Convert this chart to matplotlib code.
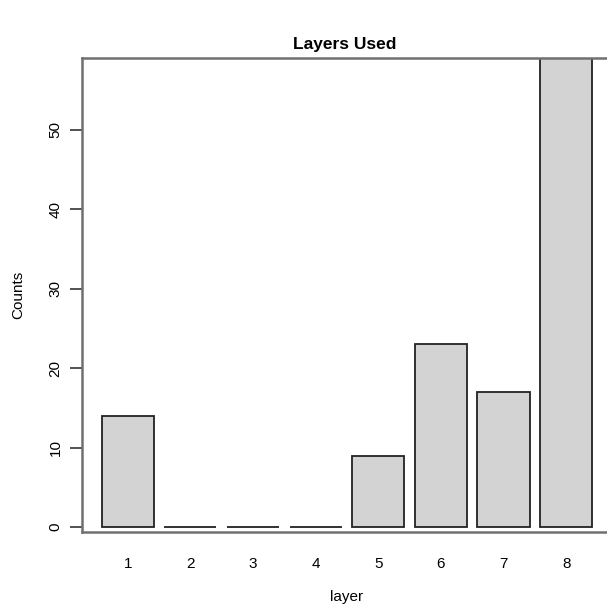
# Bar chart of how often each layer was used

import numpy as np
import matplotlib.pyplot as plt

plt.rcParams['font.family'] = ['Liberation Sans', 'DejaVu Sans']

# Counts per layer
layers = ['1', '2', '3', '4', '5', '6', '7', '8']
counts = [14, 0, 0, 0, 9, 23, 17, 59]
y_ticks = [0, 10, 20, 30, 40, 50]

fig = plt.figure(figsize=(6.07, 6.04), dpi=100)
ax = fig.add_axes([82/607, 72/604, 528/607, 474/604])

pos = np.arange(1, len(layers) + 1)
ax.bar(pos, counts, width=0.833, color='#d3d3d3', edgecolor='#222222', linewidth=1.3)

ax.set_xlim(0.27, 8.70)
ax.set_ylim(-0.6, 59)
ax.set_xticks(pos)
ax.set_xticklabels(layers, fontsize=11)
ax.tick_params(axis='x', length=0, pad=18)
ax.set_yticks(y_ticks)
ax.set_yticklabels([str(t) for t in y_ticks], rotation=90, va='center', fontsize=11)
ax.tick_params(axis='y', length=9, width=1.2, pad=5, color='#333333')

for s in ax.spines.values():
    s.set_color('#707070')
    s.set_linewidth(1.8)
ax.spines['right'].set_visible(False)

fig.text(345/607, 1 - 45/604, 'Layers Used', ha='center', va='center', fontsize=12.5, fontweight='bold')
fig.text(18/607, 1 - 295/604, 'Counts', ha='center', va='center', rotation=90, fontsize=11)
fig.text(347/607, 1 - 597/604, 'layer', ha='center', va='center', fontsize=11)

plt.savefig('out.png', dpi=100)
